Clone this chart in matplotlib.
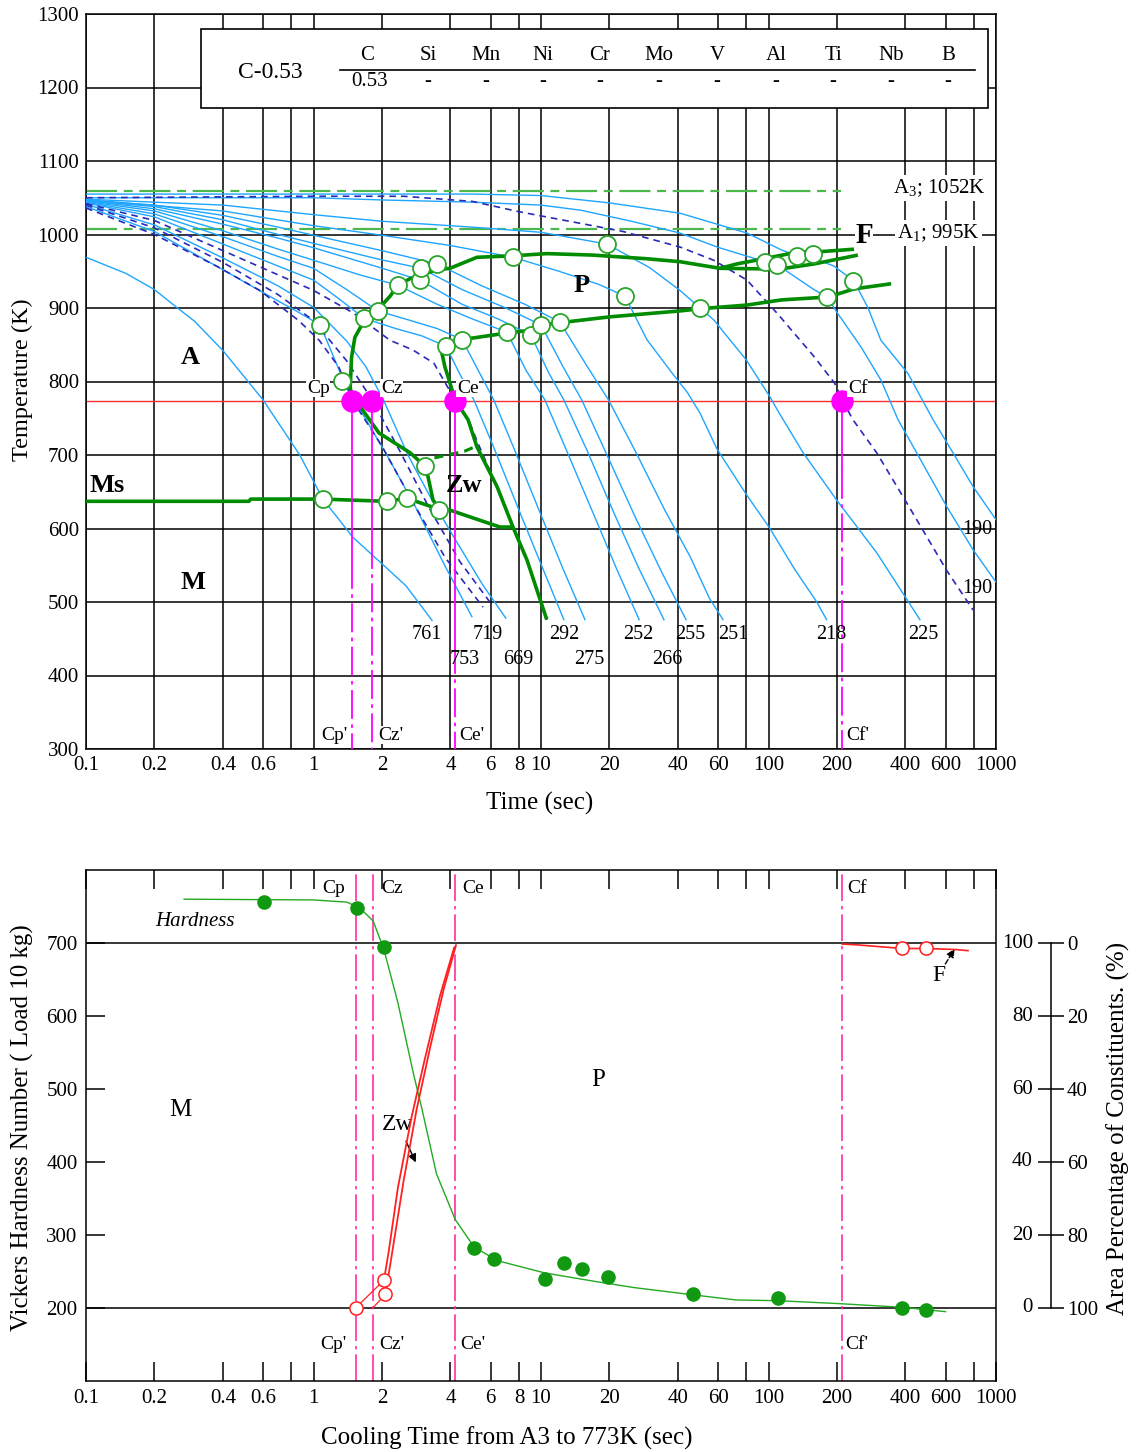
import matplotlib.pyplot as plt
from matplotlib.patches import Rectangle
from matplotlib.ticker import NullLocator
from matplotlib.transforms import blended_transform_factory

plt.rcParams['font.family'] = ['Liberation Serif', 'DejaVu Serif']
plt.rcParams['mathtext.fontset'] = 'custom'
plt.rcParams['mathtext.rm'] = 'Liberation Serif'

# ---------------- data: CCT diagram (top) ----------------
grid_x = [0.1, 0.2, 0.4, 0.6, 0.8, 1, 2, 4, 6, 8, 10, 20, 40, 60, 80, 100, 200, 400, 600, 800, 1000]
grid_x_labels = ['0.1', '0.2', '0.4', '0.6', '', '1', '2', '4', '6', '8', '10', '20', '40', '60', '',
                 '100', '200', '400', '600', '', '1000']
temp_ticks = [300, 400, 500, 600, 700, 800, 900, 1000, 1100, 1200, 1300]

elements = ['C', 'Si', 'Mn', 'Ni', 'Cr', 'Mo', 'V', 'Al', 'Ti', 'Nb', 'B']
contents = ['0.53', '-', '-', '-', '-', '-', '-', '-', '-', '-', '-']

a3_temp, a1_temp = 1059, 1007
a3_label, a1_label = 'A$_3$; 1052K', 'A$_1$; 995K'
red_temp = 773

# cooling curves (time s, temperature K), light blue
c761_t = [0.1, 0.15, 0.2, 0.25, 0.3, 0.4, 0.6, 0.87, 1.1, 1.49, 2.0, 2.55, 3.32]
c761_T = [969, 947, 925, 901, 882, 842, 775, 700, 640, 588, 552, 522, 475]
c753_t = [0.1, 0.2, 0.4, 0.6, 0.85, 1.07, 1.34, 1.6, 2.1, 2.8, 3.8, 4.97]
c753_T = [1038, 1004, 952, 921, 895, 877, 805, 762, 700, 630, 548, 480]
c719_t = [0.1, 0.2, 0.4, 0.7, 1.0, 1.4, 1.7, 2.03, 2.6, 3.3, 4.2, 5.5, 7.0]
c719_T = [1041, 1013, 968, 930, 901, 855, 820, 775, 700, 640, 585, 525, 478]
c292_t = [0.1, 0.2, 0.4, 0.7, 1.0, 1.3, 1.67, 2.3, 3.0, 3.82, 4.4, 5.07, 6.3, 8.0, 10.2, 12.6]
c292_T = [1043, 1024, 987, 957, 938, 912, 886, 872, 862, 848, 810, 775, 705, 625, 545, 476]
c275_t = [0.1, 0.2, 0.4, 0.7, 1.0, 1.4, 1.92, 2.6, 3.5, 4.5, 5.3, 6.2, 7.7, 9.8, 12.5, 15.6]
c275_T = [1044, 1028, 997, 970, 954, 925, 896, 884, 872, 857, 815, 775, 705, 625, 545, 476]
c252_t = [0.1, 0.2, 0.4, 0.7, 1.0, 1.6, 2.35, 3.5, 5.0, 7.09, 8.6, 10.4, 13, 17, 21.5, 27]
c252_T = [1045, 1032, 1005, 980, 965, 945, 931, 905, 885, 867, 815, 775, 705, 620, 545, 476]
c266_t = [0.1, 0.2, 0.4, 0.7, 1.0, 1.96, 2.94, 4.5, 6.5, 9.04, 10.8, 12.6, 16, 21, 27, 34.7]
c266_T = [1046, 1035, 1014, 995, 982, 955, 938, 905, 885, 863, 812, 775, 705, 620, 545, 476]
c255_t = [0.1, 0.2, 0.4, 0.7, 1.0, 1.96, 2.97, 4.5, 7.0, 10, 12.5, 15.1, 19.5, 26, 34, 43.4]
c255_T = [1046, 1038, 1020, 1000, 988, 966, 954, 925, 900, 877, 820, 775, 700, 615, 540, 476]
c251_t = [0.1, 0.2, 0.4, 0.7, 1.0, 2.0, 3.49, 5.5, 8.5, 12.1, 16, 19.8, 26, 35, 45.2, 55, 63.1]
c251_T = [1047, 1040, 1026, 1010, 999, 978, 960, 930, 905, 881, 820, 775, 705, 625, 562, 505, 476]
c218_t = [0.1, 0.4, 1.0, 2.0, 4.0, 7.53, 12, 18, 23.4, 29.2, 38, 44, 50, 59.4, 80, 101, 130, 163, 180]
c218_T = [1047, 1032, 1012, 999, 985, 969, 950, 932, 916, 857, 810, 785, 757, 708, 646, 601, 545, 500, 476]
c225_t = [0.1, 0.4, 1.0, 2.0, 5.0, 10, 19.5, 30, 40.8, 50, 57.4, 80, 102, 110, 142, 199, 299, 463]
c225_T = [1048, 1040, 1027, 1018, 1010, 1003, 987, 955, 924, 900, 884, 829, 778, 760, 703, 639, 567, 476]
c190a_t = [0.1, 1, 2, 5, 10, 15, 25, 40.8, 59.4, 96.5, 109, 158.5, 181, 201, 255, 312, 371, 448, 607, 793, 1000]
c190a_T = [1050, 1050, 1047, 1044, 1040, 1033, 1018, 1002, 983, 963, 959, 925, 915, 893, 847, 802, 748, 703, 630,
           571, 527]
c190b_t = [0.1, 1, 5, 10, 20, 40.8, 80.4, 114, 134, 157, 194, 237, 273, 312, 410, 529, 647, 793, 1000]
c190b_T = [1055, 1055, 1055, 1053, 1043, 1029, 1002, 979, 971, 968, 957, 937, 901, 856, 811, 748, 703, 657, 612]

# critical cooling curves (dashed, dark blue)
ncp_t = [0.1, 0.2, 0.38, 0.58, 0.86, 1.06, 1.29, 1.48, 2.0, 2.8, 3.8, 5.56]
ncp_T = [1036, 1000, 956, 924, 883, 856, 820, 775, 712, 630, 560, 493]
ncz_t = [0.1, 0.2, 0.4, 0.7, 1.0, 1.4, 1.81, 2.4, 3.2, 4.4, 6.09]
ncz_T = [1040, 1009, 962, 918, 883, 828, 775, 705, 630, 555, 496]
nce_t = [0.1, 0.2, 0.4, 0.7, 1.0, 1.5, 2.17, 2.73, 3.38, 4.19, 4.8, 5.3, 6.4, 8.7, 10.6]
nce_T = [1042, 1019, 978, 945, 924, 893, 856, 843, 825, 775, 748, 715, 657, 557, 476]
ncf_t = [0.1, 1, 2.5, 5, 8, 15, 23, 40.8, 57.4, 80.4, 109, 158.5, 195, 211, 235, 299, 405, 607, 793]
ncf_T = [1050, 1052, 1052, 1045, 1031, 1015, 1004, 983, 965, 938, 893, 834, 798, 775, 748, 703, 635, 543, 489]

# transformation lines (green)
ps_t = [1.48, 1.45, 1.47, 1.52, 1.65, 1.83, 1.96, 2.17, 2.35, 2.66, 2.97, 3.49, 3.98, 5.23, 7.53,
        10.6, 16.9, 29.2, 40.8, 61.2, 112, 159, 247]
ps_T = [775, 792, 833, 860, 880, 895, 901, 916, 931, 940, 945, 952, 954, 969, 971,
        974, 972, 967, 963, 954, 953, 960, 972]
fs_t = [61.2, 72.7, 95.5, 133.5, 158.5, 237.6]
fs_T = [954, 960, 967, 976, 976, 980]
pf_t = [10.6, 8.68, 7.53, 6.41, 5.23, 4.78, 4.19, 3.98, 3.78, 3.60, 4.50, 7.09, 9.13, 10.1, 12.1,
        20.1, 40.8, 50.0, 80.4, 114, 183, 238, 346]
pf_T = [476, 557, 602, 657, 711, 748, 775, 798, 820, 850, 857, 866, 870, 877, 880,
        888, 896, 899, 904, 911, 915, 926, 933]
zwf_t = [1.48, 1.62, 1.94, 2.66, 3.06, 3.19, 3.35, 3.56, 3.98, 6.60, 7.53]
zwf_T = [775, 764, 730, 703, 686, 670, 639, 627, 625, 602, 602]
ms_t = [0.1, 0.52, 0.53, 1.10, 2.08, 2.58, 3.35, 3.56]
ms_T = [637, 637, 640, 640, 637, 641, 629, 627]
zws_t = [3.4, 4.0, 4.6, 5.1]
zws_T = [696, 701, 705, 711]

circ_t = [1.07, 1.34, 1.67, 1.92, 2.35, 2.94, 2.97, 3.49, 3.82, 4.50, 7.09, 9.04, 10.0, 12.1,
          7.53, 19.5, 23.4, 50.0, 96.5, 109, 134, 157, 181, 235, 1.10, 2.10, 2.58, 3.09, 3.56]
circ_T = [877, 801, 886, 896, 931, 938, 954, 960, 848, 857, 867, 863, 877, 881,
          969, 987, 916, 900, 963, 959, 971, 974, 915, 937, 640, 637, 642, 685, 625]

crit_names = ['Cp', 'Cz', 'Ce', 'Cf']
crit_t = [1.48, 1.81, 4.2, 211]

hv_labels = ['761', '753', '719', '669', '292', '275', '252', '266', '255', '251', '218', '225', '190', '190']
hv_label_t = [3.15, 4.64, 5.85, 7.93, 12.6, 16.3, 26.7, 35.8, 45.2, 69.8, 188, 477, 825, 825]
hv_label_T = [456, 422, 456, 422, 456, 422, 456, 422, 456, 456, 456, 456, 598, 519]

# ---------------- data: hardness / constituents (bottom) ----------------
hv_ticks = [200, 300, 400, 500, 600, 700]
hv_pts_t = [0.606, 1.55, 2.04, 5.07, 6.2, 10.4, 12.6, 15.1, 19.8, 46.6, 110, 386, 492]
hv_pts = [756, 748, 695, 282, 267, 240, 262, 253, 243, 219, 214, 200, 197]
hv_line_t = [0.27, 1.0, 1.4, 1.6, 1.83, 2.04, 2.35, 2.75, 3.0, 3.47, 4.2, 5.07, 6.4, 10.4, 17.6, 25.6,
             46.6, 72, 110, 204, 386, 600]
hv_line = [760, 759, 756, 748, 730, 691, 618, 521, 472, 384, 321, 284, 265, 248, 236, 228,
           218, 211, 210, 206, 201, 195]

crit_t_bottom = [1.53, 1.82, 4.2, 211]
pct_ticks = [0, 20, 40, 60, 80, 100]
zw_a_t = [2.04, 2.14, 2.35, 2.7, 3.08, 3.6, 4.15]
zw_a_pct = [7.6, 15.4, 33, 52.4, 68, 85.6, 98.7]
zw_b_t = [2.07, 2.22, 2.49, 2.84, 3.27, 3.74, 4.23]
zw_b_pct = [3.7, 15.4, 34.9, 54.4, 71.9, 87.5, 99.4]
zw_link_a_t, zw_link_a_pct = [1.53, 2.04], [0, 7.6]
zw_link_b_t, zw_link_b_pct = [1.82, 2.07], [0, 3.7]
ferr_t = [211, 244, 322, 386, 490, 667, 753]
ferr_pct = [99.7, 99.5, 98.9, 98.5, 98.5, 98.2, 97.9]
open_t = [1.53, 2.04, 2.07, 386, 490]
open_pct = [0, 7.6, 3.7, 98.5, 98.5]

LBLUE = '#1ea5ff'
NAVY = '#2a2ab8'
GREEN = '#008c00'
CGREEN = '#2aa52a'

fig = plt.figure(figsize=(11.37, 14.52), dpi=100)
ax = fig.add_axes([86 / 1137, 1 - 749 / 1452, 910 / 1137, 735 / 1452])
ax2 = fig.add_axes([86 / 1137, 1 - 1381 / 1452, 910 / 1137, 511 / 1452])

# ================= top chart =================
ax.set_xscale('log')
ax.set_xlim(0.1, 1000)
ax.set_ylim(300, 1300)
ax.set_xticks(grid_x)
ax.set_xticklabels(grid_x_labels)
ax.xaxis.set_minor_locator(NullLocator())
ax.set_yticks(temp_ticks)
ax.tick_params(length=0, labelsize=15, pad=5)
ax.grid(True, color='black', lw=1.1)
ax.set_axisbelow(True)
for s in ax.spines.values():
    s.set_linewidth(1.1)

ax.axhline(a3_temp, xmax=0.83, color='#4cb84c', lw=1.6, dashes=(14, 3, 4, 3), zorder=2)
ax.axhline(a1_temp, xmax=0.83, color='#4cb84c', lw=1.6, dashes=(14, 3, 4, 3), zorder=2)
ax.axhline(red_temp, color='#ff3030', lw=1.0, zorder=2)

light = [(c761_t, c761_T), (c753_t, c753_T), (c719_t, c719_T), (c292_t, c292_T), (c275_t, c275_T),
         (c252_t, c252_T), (c266_t, c266_T), (c255_t, c255_T), (c251_t, c251_T), (c218_t, c218_T),
         (c225_t, c225_T), (c190a_t, c190a_T), (c190b_t, c190b_T)]
for xs, ys in light:
    ax.plot(xs, ys, color=LBLUE, lw=1.0, zorder=3)
for xs, ys in [(ncp_t, ncp_T), (ncz_t, ncz_T), (nce_t, nce_T), (ncf_t, ncf_T)]:
    ax.plot(xs, ys, color=NAVY, lw=1.2, dashes=(4, 3), zorder=3)

for xs, ys in [(ps_t, ps_T), (fs_t, fs_T), (pf_t, pf_T), (zwf_t, zwf_T), (ms_t, ms_T)]:
    ax.plot(xs, ys, color=GREEN, lw=2.6, zorder=4, solid_capstyle='butt')
ax.plot(zws_t, zws_T, color=GREEN, lw=2.2, dashes=(3, 2), zorder=4)
ax.scatter(circ_t, circ_T, s=150, facecolor='white', edgecolor=CGREEN, lw=1.3, zorder=5)

split_T = [557, 584, 442, 680]
for name, t, sp in zip(crit_names, crit_t, split_T):
    ax.plot([t, t], [red_temp, sp], color='#ff00ff', lw=1.3, zorder=6)
    ax.plot([t, t], [sp, 300], color='#ff00ff', lw=1.3, dashes=(16, 3, 2, 3), zorder=6)
ax.scatter(crit_t, [red_temp] * 4, s=230, color='#ff00ff', zorder=7)

top_lab_t = [1.05, 2.21, 4.77, 247]
bot_lab_t = [1.24, 2.19, 4.97, 247]
for name, tl, tb in zip(crit_names, top_lab_t, bot_lab_t):
    ax.text(tl, 791, name, fontsize=14, ha='center', va='center', zorder=8,
            bbox=dict(fc='white', ec='none', pad=0.5))
    ax.text(tb, 319, name + "'", fontsize=14, ha='center', va='center', zorder=8,
            bbox=dict(fc='white', ec='none', pad=0.5))

for lab, t, T in zip(hv_labels, hv_label_t, hv_label_T):
    ax.text(t, T, lab, fontsize=14.5, ha='center', va='center', zorder=8)

for txt, t, T in [('A', 0.286, 833), ('P', 15.1, 930), ('M', 0.295, 526), ('Zw', 4.58, 659)]:
    ax.text(t, T, txt, fontsize=19, fontweight='bold', ha='center', va='center', zorder=8)
ax.text(0.104, 659, 'Ms', fontsize=19, fontweight='bold', ha='left', va='center', zorder=8)
ax.text(263, 999, 'F', fontsize=21, fontweight='bold', ha='center', va='center', zorder=8,
        bbox=dict(fc='white', ec='none', pad=0.5))
ax.text(567, 1063, a3_label, fontsize=15, ha='center', va='center', zorder=8,
        bbox=dict(fc='white', ec='none', pad=1.5))
ax.text(560, 1002, a1_label, fontsize=15, ha='center', va='center', zorder=8,
        bbox=dict(fc='white', ec='none', pad=1.5))

# composition table
ax.add_patch(Rectangle((0.1264, 0.872), 0.991 - 0.1264, 0.9796 - 0.872, transform=ax.transAxes,
                       facecolor='white', edgecolor='black', lw=1.2, zorder=9))
col_x = [0.3088, 0.3758, 0.4396, 0.5022, 0.5648, 0.6297, 0.6934, 0.7582, 0.8209, 0.8846, 0.9473]
ax.text(0.2022, 0.921, 'C-0.53', transform=ax.transAxes, fontsize=17, ha='center', va='center', zorder=10)
for el, val, cx in zip(elements, contents, col_x):
    ax.text(cx, 0.944, el, transform=ax.transAxes, fontsize=15, ha='center', va='center', zorder=10)
    ax.text(cx + (0.003 if val != '-' else 0), 0.9075, val, transform=ax.transAxes, fontsize=15,
            ha='center', va='center', zorder=10)
ax.plot([0.2791, 0.9769], [0.9238, 0.9238], transform=ax.transAxes, color='black', lw=1.2, zorder=10)

fig.text(22 / 1137, 1 - 380 / 1452, 'Temperature (K)', rotation=90, fontsize=17.5, ha='center', va='center')
fig.text(540 / 1137, 1 - 803 / 1452, 'Time (sec)', fontsize=18, ha='center', va='center')

# ================= bottom chart =================
ax2.set_xscale('log')
ax2.set_xlim(0.1, 1000)
ax2.set_ylim(100, 800)
ax2.set_xticks(grid_x)
ax2.set_xticklabels(grid_x_labels)
ax2.xaxis.set_minor_locator(NullLocator())
ax2.set_yticks(hv_ticks)
ax2.tick_params(axis='x', direction='in', length=14, width=1.1, top=True, labelsize=15, pad=6)
ax2.tick_params(axis='y', direction='in', length=14, width=1.1, labelsize=15, pad=6)
for s in ax2.spines.values():
    s.set_linewidth(1.1)
for h in (200, 700):
    ax2.axhline(h, color='black', lw=1.1, zorder=1)

for t in crit_t_bottom:
    ax2.axvline(t, color='#ff2fa0', lw=1.2, dashes=(16, 3, 2, 3), zorder=2)

ax2.plot(hv_line_t, hv_line, color='#22aa22', lw=1.0, zorder=3)
ax2.scatter(hv_pts_t, hv_pts, s=90, color='#119911', zorder=4)

for name, tl in zip(crit_names, [1.22, 2.21, 5.02, 245]):
    ax2.text(tl, 775, name, fontsize=14, ha='center', va='center')
    ax2.text(tl, 150, name + "'", fontsize=14, ha='center', va='center')
ax2.text(0.259, 471, 'M', fontsize=18, ha='center', va='center')
ax2.text(17.8, 512, 'P', fontsize=18, ha='center', va='center')
ax2.text(0.301, 729, 'Hardness', fontsize=15, style='italic', ha='center', va='center')
ax2.text(2.35, 451, 'Zw', fontsize=17, ha='center', va='center')
ax2.text(561, 655, 'F', fontsize=17, ha='center', va='center')
ax2.annotate('', xy=(2.85, 396), xytext=(2.52, 432),
             arrowprops=dict(arrowstyle='-|>', color='black', lw=1.0, mutation_scale=12))
ax2.annotate('', xy=(667, 695), xytext=(590, 668),
             arrowprops=dict(arrowstyle='-|>', color='black', lw=1.0, ls='--', mutation_scale=12))

ax3 = ax2.twinx()
ax3.set_ylim(-20, 120)
for k in ('top', 'left', 'bottom'):
    ax3.spines[k].set_visible(False)
ax3.spines['right'].set_position(('axes', (1051 - 86) / 910))
ax3.spines['right'].set_bounds(0, 100)
ax3.spines['right'].set_linewidth(1.1)
ax3.set_yticks(pct_ticks)
ax3.set_yticklabels([str(100 - v) for v in pct_ticks])
ax3.tick_params(axis='y', direction='inout', length=19, width=1.1, labelsize=15, pad=2)
tr = blended_transform_factory(ax3.transAxes, ax3.transData)
for v in pct_ticks:
    ax3.text((1033 - 86) / 910, v, str(v), transform=tr, fontsize=15, ha='right', va='center')

ax3.plot(zw_link_a_t, zw_link_a_pct, color='#ff2020', lw=0.9, zorder=3)
ax3.plot(zw_link_b_t, zw_link_b_pct, color='#ff2020', lw=0.9, zorder=3)
ax3.plot(zw_a_t, zw_a_pct, color='#ff2020', lw=1.3, zorder=3)
ax3.plot(zw_b_t, zw_b_pct, color='#ff2020', lw=1.3, zorder=3)
ax3.plot(ferr_t, ferr_pct, color='#ff2020', lw=1.2, zorder=3)
ax3.scatter(open_t, open_pct, s=90, facecolor='white', edgecolor='#ff2020', lw=1.1, zorder=4)

fig.text(22 / 1137, 1 - 1128 / 1452, 'Vickers Hardness Number ( Load 10 kg)', rotation=90,
         fontsize=18, ha='center', va='center')
fig.text(1118 / 1137, 1 - 1128 / 1452, 'Area Percentage of Constituents. (%)', rotation=90,
         fontsize=18, ha='center', va='center')
fig.text(507 / 1137, 1 - 1438 / 1452, 'Cooling Time from A3 to 773K (sec)', fontsize=18,
         ha='center', va='center')

fig.savefig('out.png', dpi=100)
